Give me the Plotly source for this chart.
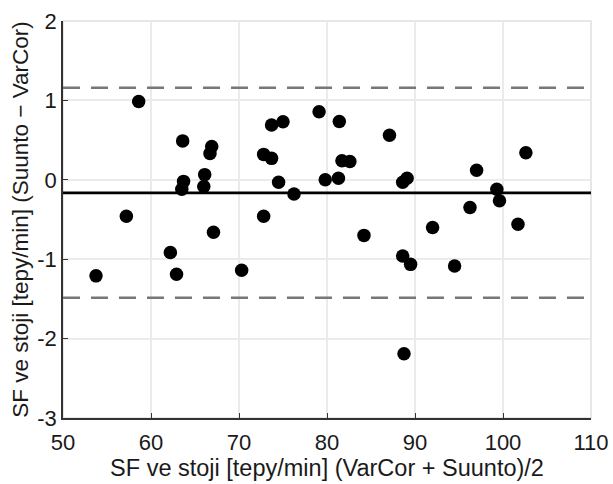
import plotly.graph_objects as go

mean_hr = [58.6, 63.6, 66.9, 66.7, 63.7, 63.5, 66.1, 66.0, 57.2, 67.1, 62.2, 62.9, 53.75, 70.3,
           79.1, 81.4, 75.0, 73.7, 72.8, 73.7, 81.7, 82.6, 87.1, 74.5, 79.8, 81.3, 76.25, 72.8, 84.2,
           102.6, 97.0, 89.1, 88.6, 99.3, 99.6, 96.25, 92.0, 101.7, 88.6, 89.5, 94.5, 88.75]
diff_hr = [0.985, 0.49, 0.42, 0.33, -0.02, -0.12, 0.065, -0.085, -0.46, -0.66, -0.915, -1.19, -1.21, -1.14,
           0.856, 0.735, 0.73, 0.69, 0.32, 0.27, 0.24, 0.23, 0.56, -0.03, 0.0, 0.02, -0.18, -0.46, -0.70,
           0.34, 0.12, 0.02, -0.03, -0.12, -0.265, -0.35, -0.6, -0.56, -0.96, -1.065, -1.085, -2.19]

bias = -0.165
loa_upper = 1.16
loa_lower = -1.485

x_ticks = [50, 60, 70, 80, 90, 100, 110]
y_ticks = [2, 1, 0, -1, -2, -3]
y_tick_text = ["2", "1", "0", "-1", "-2", "-3"]

fig = go.Figure()
# light frame on top/right
fig.add_shape(type="rect", xref="paper", yref="paper", x0=0, x1=1, y0=0, y1=1,
              line=dict(color="#e0e0e0", width=1.5), layer="below")

fig.add_trace(go.Scatter(x=mean_hr, y=diff_hr, mode="markers",
                         marker=dict(color="black", size=13.5), showlegend=False))

fig.add_shape(type="line", xref="paper", x0=0, x1=1, yref="y", y0=bias, y1=bias,
              line=dict(color="black", width=2.7))
for v in (loa_upper, loa_lower):
    fig.add_shape(type="line", xref="paper", x0=0, x1=1, yref="y", y0=v, y1=v,
                  line=dict(color="#777777", width=2.5, dash="17px,11px"))

font = dict(family="Liberation Sans, Arial, sans-serif", size=22, color="#1a1a1a")
fig.update_layout(
    width=613, height=484,
    margin=dict(l=63, r=22, t=21, b=66),
    paper_bgcolor="white", plot_bgcolor="white",
    font=font,
    xaxis=dict(range=[50, 110], tickvals=x_ticks, showgrid=True, gridcolor="#ebebeb", gridwidth=1.5,
               showline=True, linecolor="#333333", linewidth=1.8, mirror=False, automargin=False,
               ticks="inside", ticklen=5, tickcolor="#333333", zeroline=False,
               ticklabelstandoff=4,
               title=dict(text="SF ve stoji [tepy/min] (VarCor + Suunto)/2", standoff=3,
                          font=dict(size=23.5))),
    yaxis=dict(range=[-3, 2], tickvals=y_ticks, ticktext=y_tick_text, showgrid=True,
               gridcolor="#ebebeb", gridwidth=1.5, automargin=False,
               showline=True, linecolor="#333333", linewidth=1.8, mirror=False,
               ticks="inside", ticklen=5, tickcolor="#333333", zeroline=False,
               title=dict(text="SF ve stoji [tepy/min] (Suunto − VarCor)", standoff=2,
                          font=dict(size=22.5))),
)

fig.write_html("out.html", config={"displayModeBar": False},
               post_script="document.body.style.margin='0';")
